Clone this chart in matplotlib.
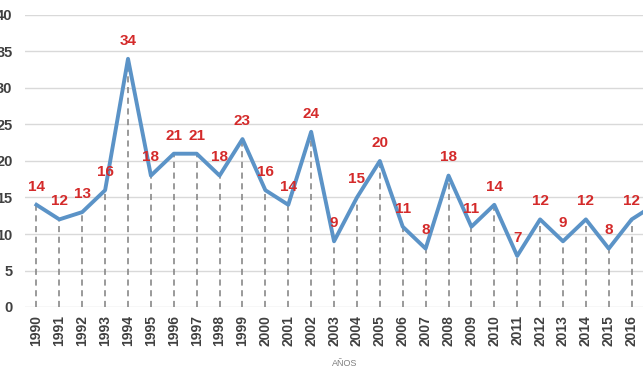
import numpy as np
import matplotlib.pyplot as plt

plt.rcParams['font.family'] = ['Liberation Sans', 'DejaVu Sans']

years = ['1990', '1991', '1992', '1993', '1994', '1995', '1996', '1997', '1998', '1999',
         '2000', '2001', '2002', '2003', '2004', '2005', '2006', '2007', '2008', '2009',
         '2010', '2011', '2012', '2013', '2014', '2015', '2016', '2017']
values = [14, 12, 13, 16, 34, 18, 21, 21, 18, 23,
          16, 14, 24, 9, 15, 20, 11, 8, 18, 11,
          14, 7, 12, 9, 12, 8, 12, 14]
yticks = [0, 5, 10, 15, 20, 25, 30, 35, 40]

fig = plt.figure(figsize=(6.43, 3.85), dpi=100)
# axes runs past the right edge, like the cropped original
ax = fig.add_axes([25 / 643, 78 / 385, 641 / 643, 292 / 385])

x = np.arange(len(years))
ax.plot(x, values, color='#5b93c7', lw=2.8, zorder=3)
ax.vlines(x, 0, values, colors='#7f7f7f', linestyles=(0, (4, 3)), lw=1.1, zorder=2)

for xi, v in zip(x, values):
    ax.annotate(str(v), (xi, v), xytext=(0, 8), textcoords='offset points',
                ha='center', va='bottom', color='#d42a2a', fontsize=11,
                fontweight='bold', zorder=4)

ax.set_xlim(-0.5, len(years) - 0.5)
ax.set_ylim(0, 40)
ax.set_yticks(yticks)
ax.set_xticks(x)
ax.set_xticklabels(years, rotation=90, fontsize=10, fontweight='bold', color='#404040')
ax.tick_params(axis='y', labelsize=10.5, labelcolor='#404040', length=0, pad=9)
ax.tick_params(axis='x', length=0, pad=6)
for lbl in ax.get_yticklabels():
    lbl.set_fontweight('bold')
ax.grid(axis='y', color='#d9d9d9', lw=1)
ax.set_axisbelow(True)
for s in ax.spines.values():
    s.set_visible(False)

fig.text(345 / 643, 1 - 363 / 385, 'AÑOS', ha='center', va='center',
         fontsize=6.5, color='#7f7f7f')

fig.savefig('out.png', dpi=100)
